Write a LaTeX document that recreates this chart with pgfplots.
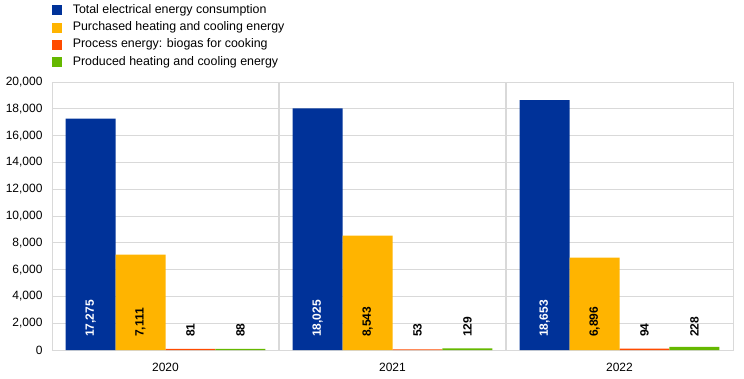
\documentclass[border=0pt]{standalone}
\usepackage{pgfplots}
\pgfplotsset{compat=1.18}
\usepackage{fontspec}
\setmainfont{Liberation Sans}
\definecolor{ecbblue}{HTML}{003299}
\definecolor{ecbyellow}{HTML}{FFB400}
\definecolor{ecborange}{HTML}{FF4B00}
\definecolor{ecbgreen}{HTML}{65B800}
\definecolor{gridgray}{HTML}{D9D9D9}
\pgfplotsset{
  mybar/.style={ybar, bar width=0.22, bar shift=#1, draw=none,
    legend image code/.code={\fill[##1] (0pt,-5pt) rectangle (10.5pt,5pt); \path (19pt,0pt);}},
  mylabel/.style={forget plot, only marks, mark=none, nodes near coords,
    point meta=explicit,
    every node near coord/.style={rotate=90, anchor=west, inner sep=0pt,
      font=\fontsize{12}{14}\selectfont\bfseries, text=#1}},
}
\begin{document}
\begin{tikzpicture}
\path[use as bounding box] (-52pt,-28pt) rectangle (692pt,350pt);
\begin{axis}[
  at={(0pt,0pt)}, anchor=south west,
  scale only axis, width=681pt, height=268pt,
  xmin=-0.5, xmax=2.5, ymin=0, ymax=20000,
  xtick={0,1,2}, xticklabels={2020,2021,2022},
  ytick={0,2000,...,20000},
  major tick length=0pt,
  extra x ticks={0.5,1.5}, extra x tick labels={},
  extra x tick style={grid=major, major grid style={color=gridgray, line width=1.6pt}},
  ymajorgrids, grid style={gridgray, line width=0.8pt},
  axis line style={gridgray, line width=0.8pt},
  scaled y ticks=false,
  /pgf/number format/.cd, fixed, precision=0, 1000 sep={,}, assume math mode=true, /pgfplots/.cd,
  tick label style={font=\fontsize{12}{14}\selectfont, text=black},
  y tick label style={xshift=-6pt},
  x tick label style={yshift=-10pt},
  legend style={at={(axis description cs:-0.005,1.305)}, anchor=north west,
    draw=none, fill=none, font=\fontsize{12.4}{14}\selectfont,
    row sep=1.2pt, column sep=0pt,
    nodes={inner sep=2pt, text height=9pt, text depth=3pt}},
  legend cell align=left,
]
\addplot[mybar=-0.33, fill=ecbblue] coordinates {(0,17275) (1,18025) (2,18653)};
\addlegendentry{Total electrical energy consumption}
\addplot[mybar=-0.11, fill=ecbyellow] coordinates {(0,7111) (1,8543) (2,6896)};
\addlegendentry{Purchased heating and cooling energy}
\addplot[mybar=0.11, fill=ecborange] coordinates {(0,81) (1,53) (2,94)};
\addlegendentry{Process energy: biogas for cooking}
\addplot[mybar=0.33, fill=ecbgreen] coordinates {(0,88) (1,129) (2,228)};
\addlegendentry{Produced heating and cooling energy}

\addplot[mylabel=white] table[meta=v] {
x y v
-0.33 970 17275
0.67 970 18025
1.67 970 18653
};
\addplot[mylabel=black] table[meta=v] {
x y v
-0.11 970 7111
0.89 970 8543
1.89 970 6896
0.11 970 81
1.11 970 53
2.11 970 94
0.33 970 88
1.33 970 129
2.33 970 228
};
\end{axis}
\end{tikzpicture}
\end{document}
